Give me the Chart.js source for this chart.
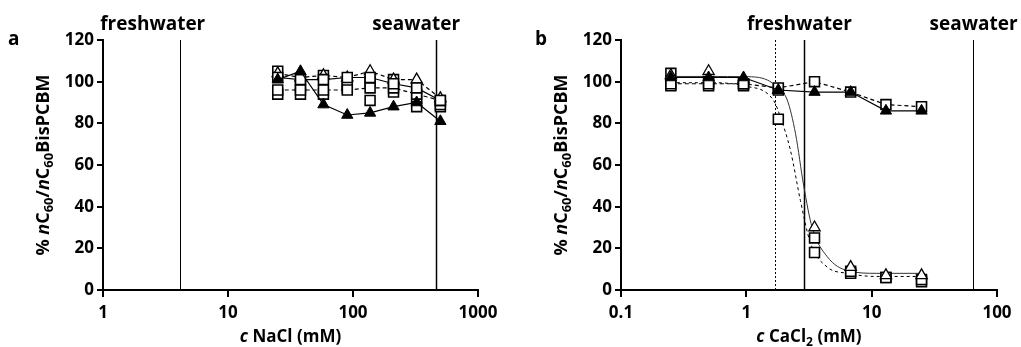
<!DOCTYPE html>
<html>
<head>
<meta charset="utf-8">
<script src="https://cdn.jsdelivr.net/npm/chart.js@4/dist/chart.umd.min.js"></script>
<style>
  body { margin: 0; background: #fff; }
  .wrap { display: flex; width: 1021px; height: 347px; }
</style>
</head>
<body>
<div class="wrap">
  <canvas id="chartA" width="510" height="347"></canvas>
  <canvas id="chartB" width="511" height="347"></canvas>
</div>
<script>
// ---- panel a: NaCl ----
const naclX = [25, 38, 58, 90, 137, 211, 323, 500];
const naclTriFilled = [101, 105, 89, 84, 85, 88, 90, 81];
const naclSqSolid = [102, 101, 101, 102, 102, 99, 97, 91];
const naclSqDash = [96, 96, 96, 96, 97, 97, 94, 91];
const naclTriOpen = [104, 102, 103, 102, 105, 101, 101, 92];
const naclSqA = [94, 98, 103, 99, 91, 101, 88, 89];
const naclSqB = [105, 94, 94, 97, 100, 95, 92, 88];
const naclTicks = [1, 10, 100, 1000];
const naclRefLines = [1, 4.1, 465];       // dotted, freshwater, seawater
const naclLabelAt = [2.5, 320];

// ---- panel b: CaCl2 ----
const caclX = [0.25, 0.5, 0.95, 1.8, 3.5, 6.8, 13, 25];
const caclTriFilled = [102, 102, 102, 96, 95, 95, 86, 86];
const caclSqDash = [99, 99, 99, 97, 100, 95, 89, 88];
const caclSqA = [104, 100, 99, 96, 25, 9, 6, 5];
const caclSqB = [98, 98, 98, 82, 18, 8, 6, 4];
const caclTriOpen = [103, 105, 101, 96, 30, 11, 7, 7];
// fitted curves
const fitX = [0.25, 0.5, 1, 1.47, 1.76, 2.12, 2.47, 2.87, 3.35, 4.42, 6.4, 11, 25];
const fitSolid = [102.5, 102.5, 102.4, 100.8, 97.3, 91.2, 75, 50, 30, 16, 9.3, 8, 8];
const fitDashX = [0.25, 0.5, 0.95, 1.65, 1.87, 2.25, 2.7, 3.25, 4.42, 6.4, 11, 25];
const fitDash = [99.5, 99.5, 98, 91, 83, 67, 43, 22.5, 11, 8, 6.5, 6.5];
const caclTicks = [0.1, 1, 10, 100];
const caclRefLines = [1.7, 2.9, 64];
const caclLabelAt = [2.65, 65];

const yTicks = [0, 20, 40, 60, 80, 100, 120];

Chart.defaults.font.family = "'Open Sans', sans-serif";
Chart.defaults.font.weight = 'bold';
Chart.defaults.color = '#000';

const FILLED_TRI = { pointStyle: 'triangle', pointRadius: 6.5, pointBackgroundColor: '#000', pointBorderColor: '#000', pointBorderWidth: 1 };
const OPEN_TRI = { pointStyle: 'triangle', pointRadius: 6.5, pointBackgroundColor: '#fff', pointBorderColor: '#000', pointBorderWidth: 1.3 };
const OPEN_SQ = { pointStyle: 'rect', pointRadius: 7, pointBackgroundColor: '#fff', pointBorderColor: '#000', pointBorderWidth: 1.6 };
const SOLID = { showLine: true, borderColor: '#000', borderWidth: 1.2 };
const DASH = { showLine: true, borderColor: '#000', borderWidth: 1.2, borderDash: [4, 3] };
const NOLINE = { showLine: false };
const FIT = { showLine: true, pointRadius: 0, borderColor: '#333', borderWidth: 1, cubicInterpolationMode: 'monotone' };

function series(xs, ys, ...styles) {
    return Object.assign({ data: xs.map((x, i) => ({ x: x, y: ys[i] })) }, ...styles);
}

// draws text made of pieces: [text, flags] with i = italic, s = subscript
function fontFor(flags, size) {
    const s = flags.includes('s') ? Math.round(size * 0.7) : size;
    return (flags.includes('i') ? 'italic ' : '') + 'bold ' + s + "px 'Open Sans', sans-serif";
}
function richWidth(ctx, parts, size) {
    let w = 0;
    parts.forEach(p => {
        ctx.font = fontFor(p[1], size);
        w += ctx.measureText(p[0]).width;
    });
    return w;
}
function drawRich(ctx, parts, cx, cy, size) {
    let x = cx - richWidth(ctx, parts, size) / 2;
    ctx.textBaseline = 'middle';
    ctx.textAlign = 'left';
    parts.forEach(p => {
        ctx.font = fontFor(p[1], size);
        ctx.fillText(p[0], x, cy + (p[1].includes('s') ? size * 0.3 : 0));
        x += ctx.measureText(p[0]).width;
    });
}

const decor = {
    id: 'decor',
    beforeDatasetsDraw(chart, args, o) {
        const ctx = chart.ctx, a = chart.chartArea, xs = chart.scales.x;
        ctx.save();
        ctx.strokeStyle = '#000';
        o.lines.forEach((v, i) => {
            const px = Math.round(xs.getPixelForValue(v)) + 0.5;
            ctx.lineWidth = o.lineWidths[i];
            ctx.setLineDash(o.dashes[i]);
            ctx.beginPath();
            ctx.moveTo(px, a.top);
            ctx.lineTo(px, a.bottom);
            ctx.stroke();
        });
        ctx.restore();
    },
    afterDraw(chart, args, o) {
        const ctx = chart.ctx, a = chart.chartArea, xs = chart.scales.x;
        ctx.save();
        ctx.fillStyle = '#000';
        ctx.font = "bold 19px 'Open Sans', sans-serif";
        ctx.textBaseline = 'middle';
        ctx.textAlign = 'left';
        ctx.fillText(o.letter, o.letterX, 40);
        ctx.textAlign = 'center';
        o.labels.forEach((t, i) => ctx.fillText(t, xs.getPixelForValue(o.labelAt[i]), 25));
        drawRich(ctx, o.xTitle, (a.left + a.right) / 2, 337, 17);
        ctx.translate(a.left - 59, (a.top + a.bottom) / 2);
        ctx.rotate(-Math.PI / 2);
        drawRich(ctx, o.yTitle, 0, 0, 18);
        ctx.restore();
    }
};

const yTitle = [['% ', ''], ['n', 'i'], ['C', ''], ['60', 's'], ['/', ''], ['n', 'i'], ['C', ''], ['60', 's'], ['BisPCBM', '']];

function makeConfig(datasets, xMin, xMax, xTicks, leftW, rightPad, deco) {
    return {
        type: 'line',
        data: { datasets: datasets },
        plugins: [decor],
        options: {
            responsive: false,
            animation: false,
            layout: { padding: { top: 40, right: rightPad, left: 0, bottom: 0 } },
            plugins: { legend: { display: false }, tooltip: { enabled: false }, decor: deco },
            scales: {
                x: {
                    type: 'logarithmic',
                    min: xMin, max: xMax,
                    afterBuildTicks: s => { s.ticks = xTicks.map(v => ({ value: v, major: true })); },
                    afterFit: s => { s.height = 57; },
                    ticks: { font: { size: 17, weight: 'bold' }, padding: 6, maxRotation: 0, autoSkip: false,
                             callback: v => String(v) },
                    grid: { drawOnChartArea: false, drawTicks: true, tickLength: 7, color: '#000', lineWidth: 2 },
                    border: { display: true, color: '#000', width: 2 }
                },
                y: {
                    min: 0, max: 120,
                    afterBuildTicks: s => { s.ticks = yTicks.map(v => ({ value: v })); },
                    afterFit: s => { s.width = leftW; },
                    ticks: { font: { size: 17, weight: 'bold' }, padding: 3 },
                    grid: { drawOnChartArea: false, drawTicks: true, tickLength: 6, color: '#000', lineWidth: 2 },
                    border: { display: true, color: '#000', width: 2 }
                }
            }
        }
    };
}

window.onload = function () {
    const dsA = [
        series(naclX, naclTriFilled, FILLED_TRI, SOLID),
        series(naclX, naclSqSolid, OPEN_SQ, SOLID),
        series(naclX, naclTriOpen, OPEN_TRI, DASH),
        series(naclX, naclSqDash, OPEN_SQ, DASH),
        series(naclX, naclSqA, OPEN_SQ, NOLINE),
        series(naclX, naclSqB, OPEN_SQ, NOLINE)
    ];
    new Chart(document.getElementById('chartA'), makeConfig(dsA, 1, 1000, naclTicks, 103, 32, {
        letter: 'a', letterX: 8,
        lines: naclRefLines, dashes: [[2, 2], [], []], lineWidths: [1, 1, 1.5],
        labels: ['freshwater', 'seawater'], labelAt: naclLabelAt,
        xTitle: [['c', 'i'], [' NaCl (mM)', '']], yTitle: yTitle
    }));

    const dsB = [
        series(caclX, caclTriFilled, FILLED_TRI, SOLID),
        series(caclX, caclSqDash, OPEN_SQ, DASH),
        series(caclX, caclTriOpen, OPEN_TRI, NOLINE),
        series(caclX, caclSqA, OPEN_SQ, NOLINE),
        series(caclX, caclSqB, OPEN_SQ, NOLINE),
        series(fitX, fitSolid, FIT),
        series(fitDashX, fitDash, FIT, { borderDash: [3, 3], borderColor: '#000' })
    ];
    new Chart(document.getElementById('chartB'), makeConfig(dsB, 0.1, 100, caclTicks, 111, 24, {
        letter: 'b', letterX: 25,
        lines: caclRefLines, dashes: [[2, 2], [], []], lineWidths: [1, 1.5, 1],
        labels: ['freshwater', 'seawater'], labelAt: caclLabelAt,
        xTitle: [['c', 'i'], [' CaCl', ''], ['2', 's'], [' (mM)', '']], yTitle: yTitle
    }));
};
</script>
</body>
</html>
